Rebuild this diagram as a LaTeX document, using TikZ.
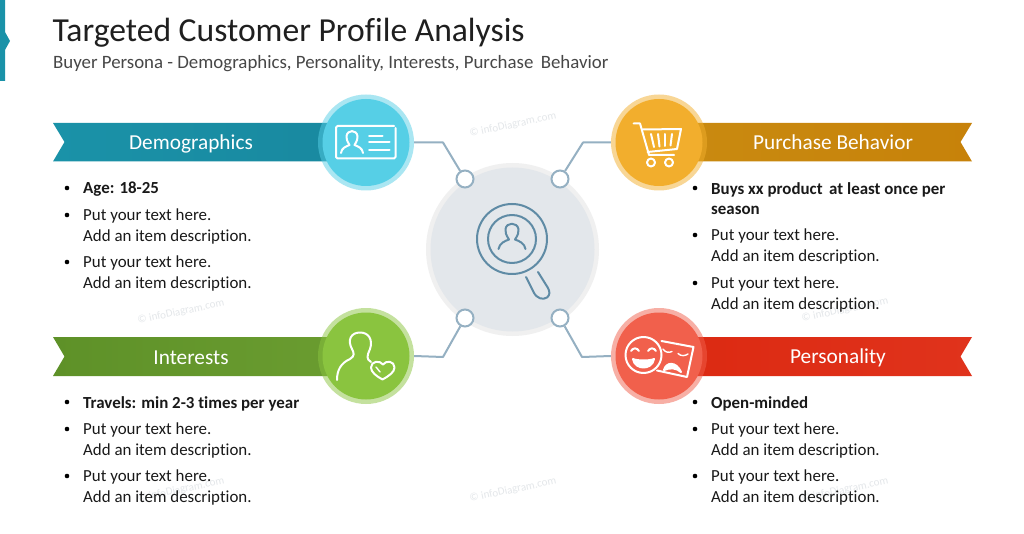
\documentclass[tikz,border=0pt]{standalone}
\usepackage{fontspec}
\setmainfont[Ligatures=NoCommon]{Carlito}
\definecolor{teal1}{HTML}{1A92A8}
\definecolor{teal2}{HTML}{1989A0}
\definecolor{gold1}{HTML}{C98A10}
\definecolor{gold2}{HTML}{C7820A}
\definecolor{grn1}{HTML}{5E9128}
\definecolor{grn2}{HTML}{6A9C30}
\definecolor{red1}{HTML}{DC2A12}
\definecolor{red2}{HTML}{E0331C}
\definecolor{cblue}{HTML}{56CFE6}
\definecolor{cgold}{HTML}{F2AE2D}
\definecolor{cgreen}{HTML}{8AC43F}
\definecolor{cred}{HTML}{F1604C}
\definecolor{linec}{HTML}{95B0C2}
\definecolor{iconc}{HTML}{5F8BA5}
\definecolor{wm}{HTML}{E4E7EA}
\tikzset{
  ring/.style={circle,inner sep=0,minimum size=96pt,fill opacity=.5},
  disc/.style={circle,inner sep=0,minimum size=87pt},
  conn/.style={draw=linec,line width=2pt,line join=round},
  dot/.style={circle,draw=linec,line width=2pt,fill=white,inner sep=0,minimum size=17pt},
  ribbonlabel/.style={anchor=base,text=white,font=\fontsize{21.3}{24}\selectfont,inner sep=0},
  item/.style={anchor=north west,align=left,inner sep=0,text=black!90,font=\fontsize{16.9}{20.3}\selectfont},
  bul/.style={circle,fill=black,inner sep=0,minimum size=4.6pt},
  wmark/.style={text=wm,rotate=12,font=\fontsize{11}{13}\selectfont,inner sep=0},
  ico/.style={draw=white,line width=2pt,line cap=round,line join=round},
  mag/.style={draw=iconc,line width=2pt,line cap=round,line join=round}
}
\newcommand{\itemnode}[4]{%
  \node[bul] (b#1) at (#2-16,#3) {};
  \node[item] (t#1) at (#2,#3-6) {#4};}
\begin{document}
\begin{tikzpicture}[x=1pt,y=-1pt]
\useasboundingbox (0,0) rectangle (1024,534);
\fill[white] (0,0) rectangle (1024,534);
% corner accent
\fill[teal1] (0,0) -- (5,0) -- (5,32) -- (10,41) -- (5,50) -- (5,81) -- (0,81) -- cycle;
% title
\node[anchor=base west,inner sep=0,text=black!88,font=\fontsize{33.6}{36}\selectfont] (title) at (52.5,42) {Targeted Customer Profile Analysis};
\node[anchor=base west,inner sep=0,text=black!72,font=\fontsize{18.85}{22}\selectfont] (sub) at (53,68.5) {Buyer Persona - Demographics, Personality, Interests, Purchase\, Behavior};
% watermarks
\node[wmark] (w1) at (513,125) {© infoDiagram.com};
\node[wmark] (w2) at (181,312) {© infoDiagram.com};
\node[wmark] (w3) at (845,310) {© infoDiagram.com};
\node[wmark] (w4) at (513,490) {© infoDiagram.com};
\node[wmark] (w5) at (181,490) {© infoDiagram.com};
\node[wmark] (w6) at (845,490) {© infoDiagram.com};
% ribbons
\shade[left color=teal1,right color=teal2] (53,123) -- (335,123) -- (335,161.5) -- (53,161.5) -- (64.5,142) -- cycle;
\shade[left color=gold1,right color=gold2] (690,123) -- (972,123) -- (960.5,142) -- (972,161.5) -- (690,161.5) -- cycle;
\shade[left color=grn1,right color=grn2] (53,337) -- (335,337) -- (335,376) -- (53,376) -- (64.5,356.5) -- cycle;
\shade[left color=red1,right color=red2] (690,337) -- (972,337) -- (960.5,356.5) -- (972,376) -- (690,376) -- cycle;
% central disc
\node[circle,inner sep=0,minimum size=173pt,fill=black!6] (hubring) at (512.5,249.5) {};
\node[circle,inner sep=0,minimum size=164pt,fill={rgb,255:red,227;green,231;blue,235}] (hub) at (512.5,249.5) {};
% ring + disc
\node[ring,fill=cblue] (demoR) at (366,142.5) {};
\node[disc,fill=cblue] (demo) at (366,142.5) {};
\node[ring,fill=cgold] (buyR) at (659,142.5) {};
\node[disc,fill=cgold] (buy) at (659,142.5) {};
\node[ring,fill=cgreen] (intR) at (366,356) {};
\node[disc,fill=cgreen] (int) at (366,356) {};
\node[ring,fill=cred] (perR) at (659,356) {};
\node[disc,fill=cred] (per) at (659,356) {};
% connectors
\node[dot] (dTL) at (465,179) {};
\node[dot] (dTR) at (560,179) {};
\node[dot] (dBL) at (465,318) {};
\node[dot] (dBR) at (560,318) {};
\coordinate (eTL) at (443,142.5);
\coordinate (eTR) at (583,142.5);
\coordinate (eBL) at (443,357);
\coordinate (eBR) at (582,357);
\draw[conn] (demoR.east) -- (eTL) -- (dTL);
\draw[conn] (buyR.west) -- (eTR) -- (dTR);
\draw[conn] (intR.east) -- (eBL) -- (dBL);
\draw[conn] (perR.west) -- (eBR) -- (dBR);
% ribbon labels
\node[ribbonlabel] (l1) at (191,149.5) {Demographics};
\node[ribbonlabel] (l2) at (833,149.5) {Purchase Behavior};
\node[ribbonlabel] (l3) at (191,364) {Interests};
\node[ribbonlabel] (l4) at (838,363.5) {Personality};
% magnifier
\draw[mag] (512,239) circle (35);
\draw[mag] (512,239) circle (24);
\draw[mag] (526,277) -- (533.5,292) .. controls (537,299) and (543,300) .. (547,297.5) .. controls (550,295) and (550,292) .. (548,288) -- (538,272);
\draw[mag] (498.5,249) .. controls (499.5,243) and (505,241) .. (509,239.5) .. controls (506,235) and (505,232) .. (505.5,229) .. controls (506.5,222) and (517,222) .. (518.5,229) .. controls (519,232) and (518,235) .. (515,239.5) .. controls (519,241) and (524.5,243) .. (525.5,249);
% card icon
\draw[ico,rounded corners=1.5pt] (395.5,128) -- (395.5,158.5) -- (336,158.5) -- (336,126) -- (394,126);
\draw[ico] (341,153) .. controls (341.5,148) and (346,146.5) .. (349.5,145) .. controls (347,141) and (346,138) .. (346.5,136) .. controls (347.5,129.5) and (356.5,129.5) .. (357.5,136) .. controls (358,138) and (357,141) .. (354.5,145) .. controls (358,146.5) and (362.5,148) .. (363,153);
\draw[ico] (369,136) -- (382.5,136);
\draw[ico] (369,142.5) -- (389.5,142.5);
\draw[ico] (369,150) -- (389.5,150);
% cart icon
\draw[ico] (633.5,123.5) -- (640,123.5) -- (649,155) -- (674,155);
\draw[ico] (642.5,129.5) -- (681,129) -- (677,149) -- (647.5,152);
\draw[ico] (651,134) -- (654,147);
\draw[ico] (658,134) -- (659.5,146.5);
\draw[ico] (665,134) -- (665,146);
\draw[ico] (672,134) -- (670.5,145.5);
\draw[ico] (651,162.5) circle (4);
\draw[ico] (669,162.5) circle (4);
% person with heart
\draw[ico] (337,380) .. controls (337,370) and (341,363) .. (350,359) .. controls (355,356) and (354,353) .. (352,349) .. controls (347,340) and (351,332.5) .. (360,332.5) .. controls (369,332.5) and (373,340) .. (370,349) .. controls (367,356) and (366,359) .. (371,362);
\draw[ico] (382.5,379.5) .. controls (376,376) and (371,372) .. (371,367.5) .. controls (371,361) and (380,360) .. (383,364.5) .. controls (386,360) and (394.5,361) .. (394.5,367.5) .. controls (394.5,372) and (389,376) .. (382.5,379.5) -- cycle;
\draw[ico,line width=1.4pt] (376,367) -- (380,372);
% masks
\draw[ico] (661.5,341) -- (693.5,347) -- (687,377) -- (657,370.5);
\draw[ico] (643.5,355) circle (18);
\draw[ico] (631,351) .. controls (633,347.5) and (637,347.5) .. (639,351);
\draw[ico] (648,351) .. controls (650,347.5) and (654,347.5) .. (656,351);
\draw[ico,fill=white] (633,359) .. controls (637,361) and (650,361) .. (654,359) .. controls (653,365) and (648,367.5) .. (643.5,367.5) .. controls (639,367.5) and (634,365) .. (633,359) -- cycle;
\draw[ico,line width=1.4pt] (663,349) .. controls (665,352.5) and (669,353) .. (672,351.5);
\draw[ico,line width=1.4pt] (678,353.5) .. controls (681,356.5) and (685,356) .. (688,354);
\draw[ico,fill=white] (664,370) .. controls (666,362) and (676,361) .. (681,372) .. controls (676,367.5) and (670,367.5) .. (664,370) -- cycle;
% lists
\itemnode{a1}{83}{188}{\textbf{Age: 18-25}}
\itemnode{a2}{83}{215}{Put your text here.\\Add an item description.}
\itemnode{a3}{83}{262}{Put your text here.\\Add an item description.}
\itemnode{b1}{711}{188}{\textbf{Buys xx product\, at least once per}\\\textbf{season}}
\itemnode{b2}{711}{235}{Put your text here.\\Add an item description.}
\itemnode{b3}{711}{283}{Put your text here.\\Add an item description.}
\itemnode{c1}{83}{402}{\textbf{Travels: min 2-3 times per year}}
\itemnode{c2}{83}{429}{Put your text here.\\Add an item description.}
\itemnode{c3}{83}{476}{Put your text here.\\Add an item description.}
\itemnode{d1}{711}{402}{\textbf{Open-minded}}
\itemnode{d2}{711}{429}{Put your text here.\\Add an item description.}
\itemnode{d3}{711}{476}{Put your text here.\\Add an item description.}
\end{tikzpicture}
\end{document}
